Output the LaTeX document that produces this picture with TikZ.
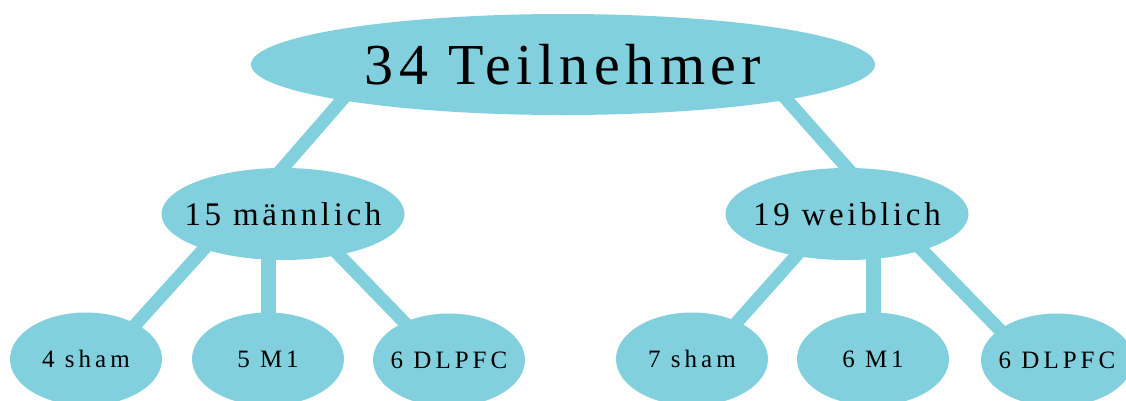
\documentclass[tikz,border=0pt]{standalone}
\usepackage{fontspec}
\setmainfont{Liberation Serif}
\newfontfamily\topfont[LetterSpace=9.5]{Liberation Serif}
\newfontfamily\midfont[LetterSpace=11]{Liberation Serif}
\newfontfamily\botfont[LetterSpace=16]{Liberation Serif}
\usetikzlibrary{shapes.geometric,backgrounds}
\definecolor{nodeblue}{HTML}{82D0DE}
\begin{document}
\begin{tikzpicture}[x=1pt,y=-1pt,
  ell/.style={ellipse, fill=nodeblue, inner xsep=-40pt, inner ysep=-8pt, text=black},
  topnode/.style={ell, minimum width=624pt, minimum height=101pt, font={\topfont\fontsize{58}{60}\selectfont}},
  midnode/.style={ell, minimum width=243pt, minimum height=92pt, font={\midfont\fontsize{33}{36}\selectfont}},
  botnode/.style={ell, minimum width=152pt, minimum height=93pt, font={\botfont\fontsize{25}{28}\selectfont}},
  conn/.style={draw=nodeblue, line width=13pt, shorten <=-8pt, shorten >=-8pt}]
\clip (0,0) rectangle (1126,400);
\node[topnode] (top) at (563,64.5) {34 Teilnehmer};
\node[midnode] (ml) at (283,214) {15 männlich};
\node[midnode] (mr) at (847,214) {19 weiblich};
\node[botnode] (s1) at (86,359) {4 sham};
\node[botnode] (m1) at (268,359) {5 M1};
\node[botnode] (d1) at (449,360) {6 DLPFC};
\node[botnode] (s2) at (692,359) {7 sham};
\node[botnode] (m2) at (873,359) {6 M1};
\node[botnode] (d2) at (1057,360) {6 DLPFC};
\begin{scope}[on background layer]
\draw[conn] ([shift={(-221,35.5)}]top.center) -- (ml.north);
\draw[conn] ([shift={(224,35.5)}]top.center) -- (mr.north);
\draw[conn] ([shift={(-80,36)}]ml.center) -- ([shift={(50,-35)}]s1.center);
\draw[conn, line width=15pt] (m1.north |- ml.south) -- (m1.north);
\draw[conn] ([shift={(55,40)}]ml.center) -- ([shift={(-45,-38)}]d1.center);
\draw[conn] ([shift={(-52,43)}]mr.center) -- ([shift={(46,-38)}]s2.center);
\draw[conn, line width=15pt] (m2.north |- mr.south) -- (m2.north);
\draw[conn] ([shift={(78,39)}]mr.center) -- ([shift={(-59,-32)}]d2.center);
\end{scope}
\end{tikzpicture}
\end{document}
